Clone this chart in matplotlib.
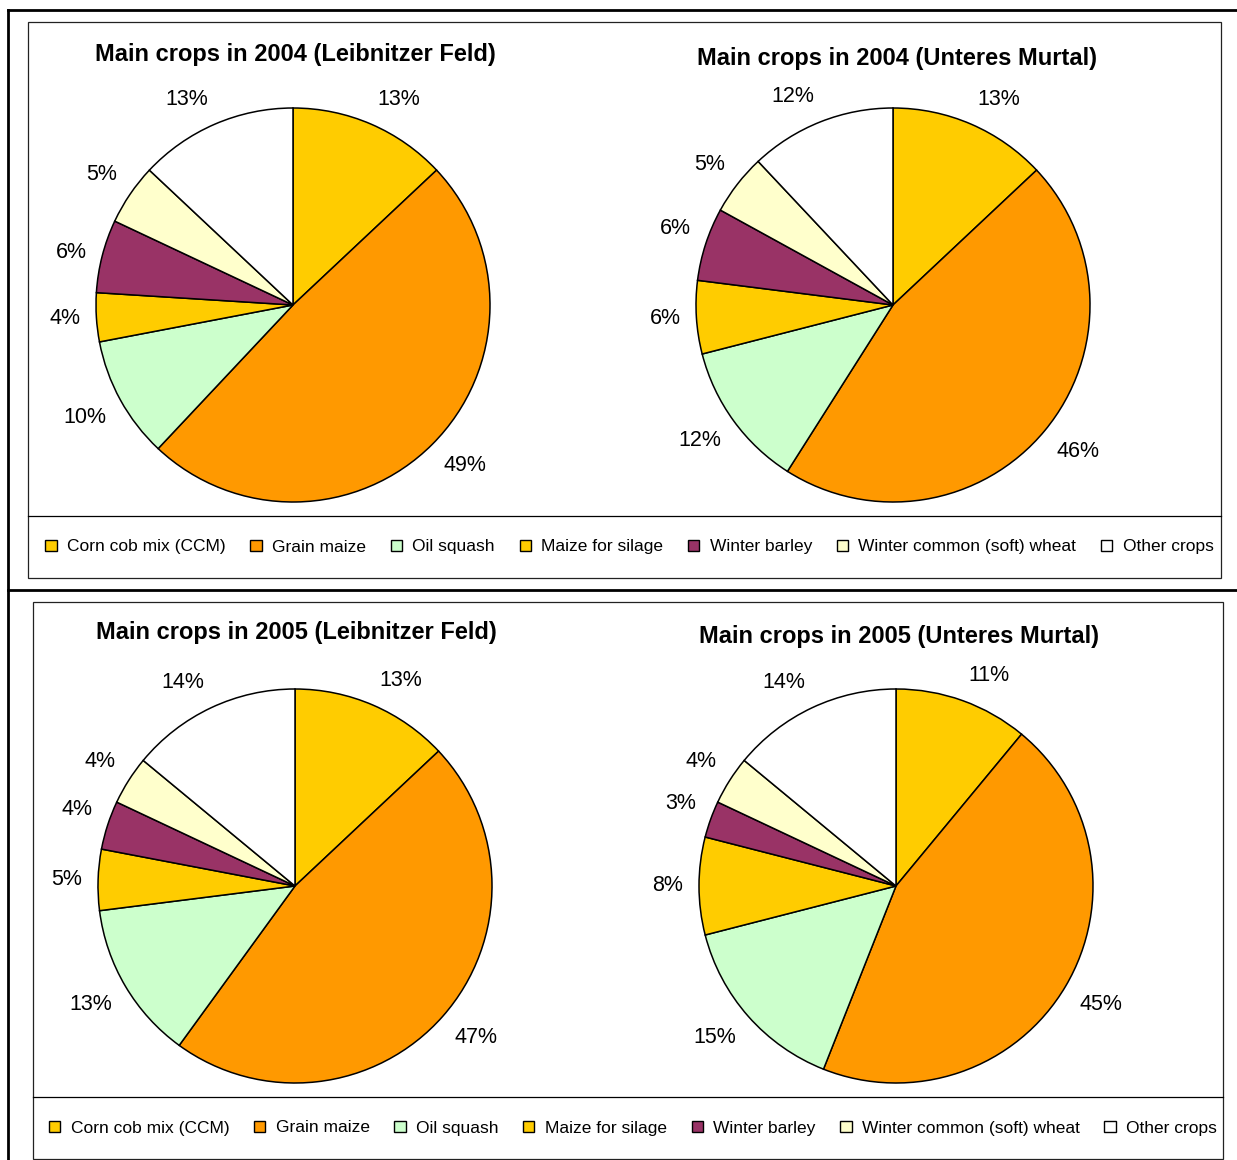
import numpy as np
import matplotlib
matplotlib.use("Agg")
import matplotlib.pyplot as plt
from matplotlib.patches import Rectangle, Patch
from matplotlib.lines import Line2D

plt.rcParams['font.family'] = ['Liberation Sans', 'DejaVu Sans']

crops = ["Corn cob mix (CCM)", "Grain maize", "Oil squash", "Maize for silage",
         "Winter barley", "Winter common (soft) wheat", "Other crops"]
colors = ["#FFCC00", "#FF9900", "#CCFFCC", "#FFCC00", "#993366", "#FFFFCC", "#FFFFFF"]

titles = ["Main crops in 2004 (Leibnitzer Feld)", "Main crops in 2004 (Unteres Murtal)",
          "Main crops in 2005 (Leibnitzer Feld)", "Main crops in 2005 (Unteres Murtal)"]
leib_2004 = [13, 49, 10, 4, 6, 5, 13]
murtal_2004 = [13, 46, 12, 6, 6, 5, 12]
leib_2005 = [13, 47, 13, 5, 4, 4, 14]
murtal_2005 = [11, 45, 15, 8, 3, 4, 14]
shares = [leib_2004, murtal_2004, leib_2005, murtal_2005]

W, H = 1237, 1160
fig = plt.figure(figsize=(W / 100, H / 100), dpi=100)


def fx(x):
    return x / W


def fy(y):
    return 1 - y / H


def hline(x0, x1, y, lw):
    fig.add_artist(Line2D([fx(x0), fx(x1)], [fy(y), fy(y)], color="black", lw=lw))


def vline(x, y0, y1, lw):
    fig.add_artist(Line2D([fx(x), fx(x)], [fy(y0), fy(y1)], color="black", lw=lw))


def box(x0, y0, x1, y1):
    fig.add_artist(Rectangle((fx(x0), fy(y1)), fx(x1) - fx(x0), fy(y0) - fy(y1),
                             fill=False, edgecolor="#222222", lw=0.9))


# outer frame lines
hline(8, W, 10, 2.0)
vline(8, 10, H, 2.0)
hline(8, W, 590, 2.0)

# panel boxes and legend separators
panels = [(28, 22, 1221, 578, 516), (33, 602, 1223, 1159, 1097)]
for x0, y0, x1, y1, ysep in panels:
    box(x0, y0, x1, y1)
    hline(x0, x1, ysep, 0.9)

R = 197
centers = [(293, 305), (893, 305), (295, 886), (896, 886)]
title_pos = [(295, 54), (897, 58), (296, 633), (899, 637)]

for (cx, cy), vals, title, (tx, ty) in zip(centers, shares, titles, title_pos):
    hw, hh = 290, 240
    ax = fig.add_axes([fx(cx - hw), fy(cy + hh), (2 * hw) / W, (2 * hh) / H])
    ax.axis("off")
    wedges, _ = ax.pie(vals, colors=colors, startangle=90, counterclock=False,
                       wedgeprops=dict(edgecolor="black", linewidth=1.1))
    ax.set_xlim(-hw / R, hw / R)
    ax.set_ylim(-hh / R, hh / R)
    for w, v in zip(wedges, vals):
        ang = np.deg2rad((w.theta1 + w.theta2) / 2)
        c, s = np.cos(ang), np.sin(ang)
        ha = "left" if c > 0.3 else ("right" if c < -0.3 else "center")
        va = "bottom" if s > 0.3 else ("top" if s < -0.3 else "center")
        ax.text(1.08 * c, 1.08 * s, f"{v}%", ha=ha, va=va, fontsize=15.5)
    fig.text(fx(tx), fy(ty), title, ha="center", va="center",
             fontsize=17, fontweight="bold")

handles = [Patch(facecolor=col, edgecolor="black", lw=1.0) for col in colors]
for x0, y0, x1, y1, ysep in panels:
    fig.legend(handles, crops, loc="center", bbox_to_anchor=(fx((x0 + x1) / 2 + 5), fy((ysep + y1) / 2)),
               ncol=7, frameon=False, fontsize=12.5, handlelength=0.65, handleheight=0.65,
               handletextpad=0.6, columnspacing=1.42, borderaxespad=0)

fig.savefig("out.png", dpi=100)
